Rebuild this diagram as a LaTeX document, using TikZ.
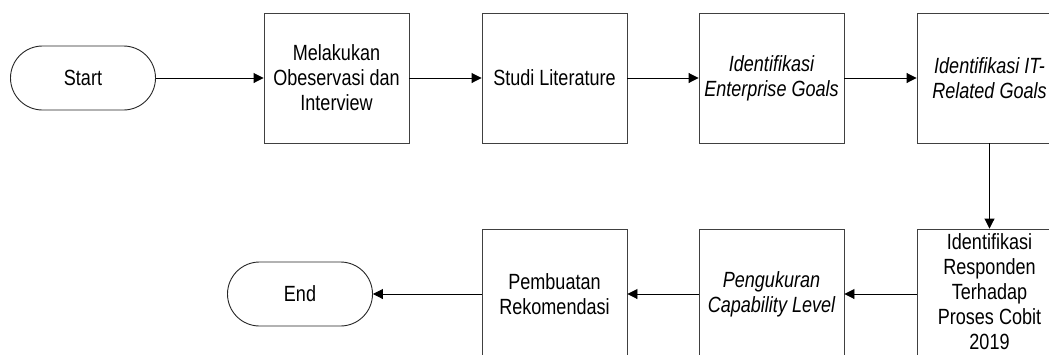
\documentclass[tikz,border=0pt]{standalone}
\usepackage{fontspec}
\setmainfont[FakeStretch=0.82]{Liberation Sans}
\usetikzlibrary{shapes.misc,arrows.meta}
\tikzset{
  labelfont/.style={font=\fontsize{22bp}{25bp}\selectfont},
  procbox/.style={draw=black!75, line width=0.9bp, rectangle, minimum width=145bp, minimum height=130bp, inner sep=0pt, align=center, labelfont},
  termnode/.style={draw=black!85, line width=0.9bp, rounded rectangle, minimum width=145bp, minimum height=64bp, inner sep=0pt, labelfont},
  conn/.style={draw=black, line width=0.9bp, -{Triangle[length=10bp,width=10bp]}}
}
\begin{document}
\begin{tikzpicture}[x=1bp,y=-1bp]
\path[use as bounding box] (0,0) rectangle (1049,354);
\clip (0,0) rectangle (1049,354);
\node[termnode] (start) at (83,78) {Start};
\node[procbox] (b1) at (336.5,78) {Melakukan\\Obeservasi dan\\Interview};
\node[procbox] (b2) at (554.5,78) {Studi Literature};
\node[procbox] (b3) at (771.5,78) {\itshape Identifikasi\\\itshape Enterprise Goals};
\node[procbox] (b4) at (989.5,78) {\itshape Identifikasi IT-\\\itshape Related Goals};
\node[procbox, label={[name=b5text, align=center, labelfont, inner sep=0pt, yshift=2.5bp]center:Identifikasi\\Responden\\Terhadap\\Proses Cobit\\2019}] (b5) at (989.5,294) {};
\node[procbox] (b6) at (771.5,294) {\itshape Pengukuran\\\itshape Capability Level};
\node[procbox] (b7) at (554.5,294) {Pembuatan\\Rekomendasi};
\node[termnode] (end) at (300,294) {End};
\draw[conn] (start.east) -- (b1.west);
\draw[conn] (b1.east) -- (b2.west);
\draw[conn] (b2.east) -- (b3.west);
\draw[conn] (b3.east) -- (b4.west);
\draw[conn] (b4.south) -- (b5.north);
\draw[conn] (b5.west) -- (b6.east);
\draw[conn] (b6.west) -- (b7.east);
\draw[conn] (b7.west) -- (end.east);
\end{tikzpicture}
\end{document}
